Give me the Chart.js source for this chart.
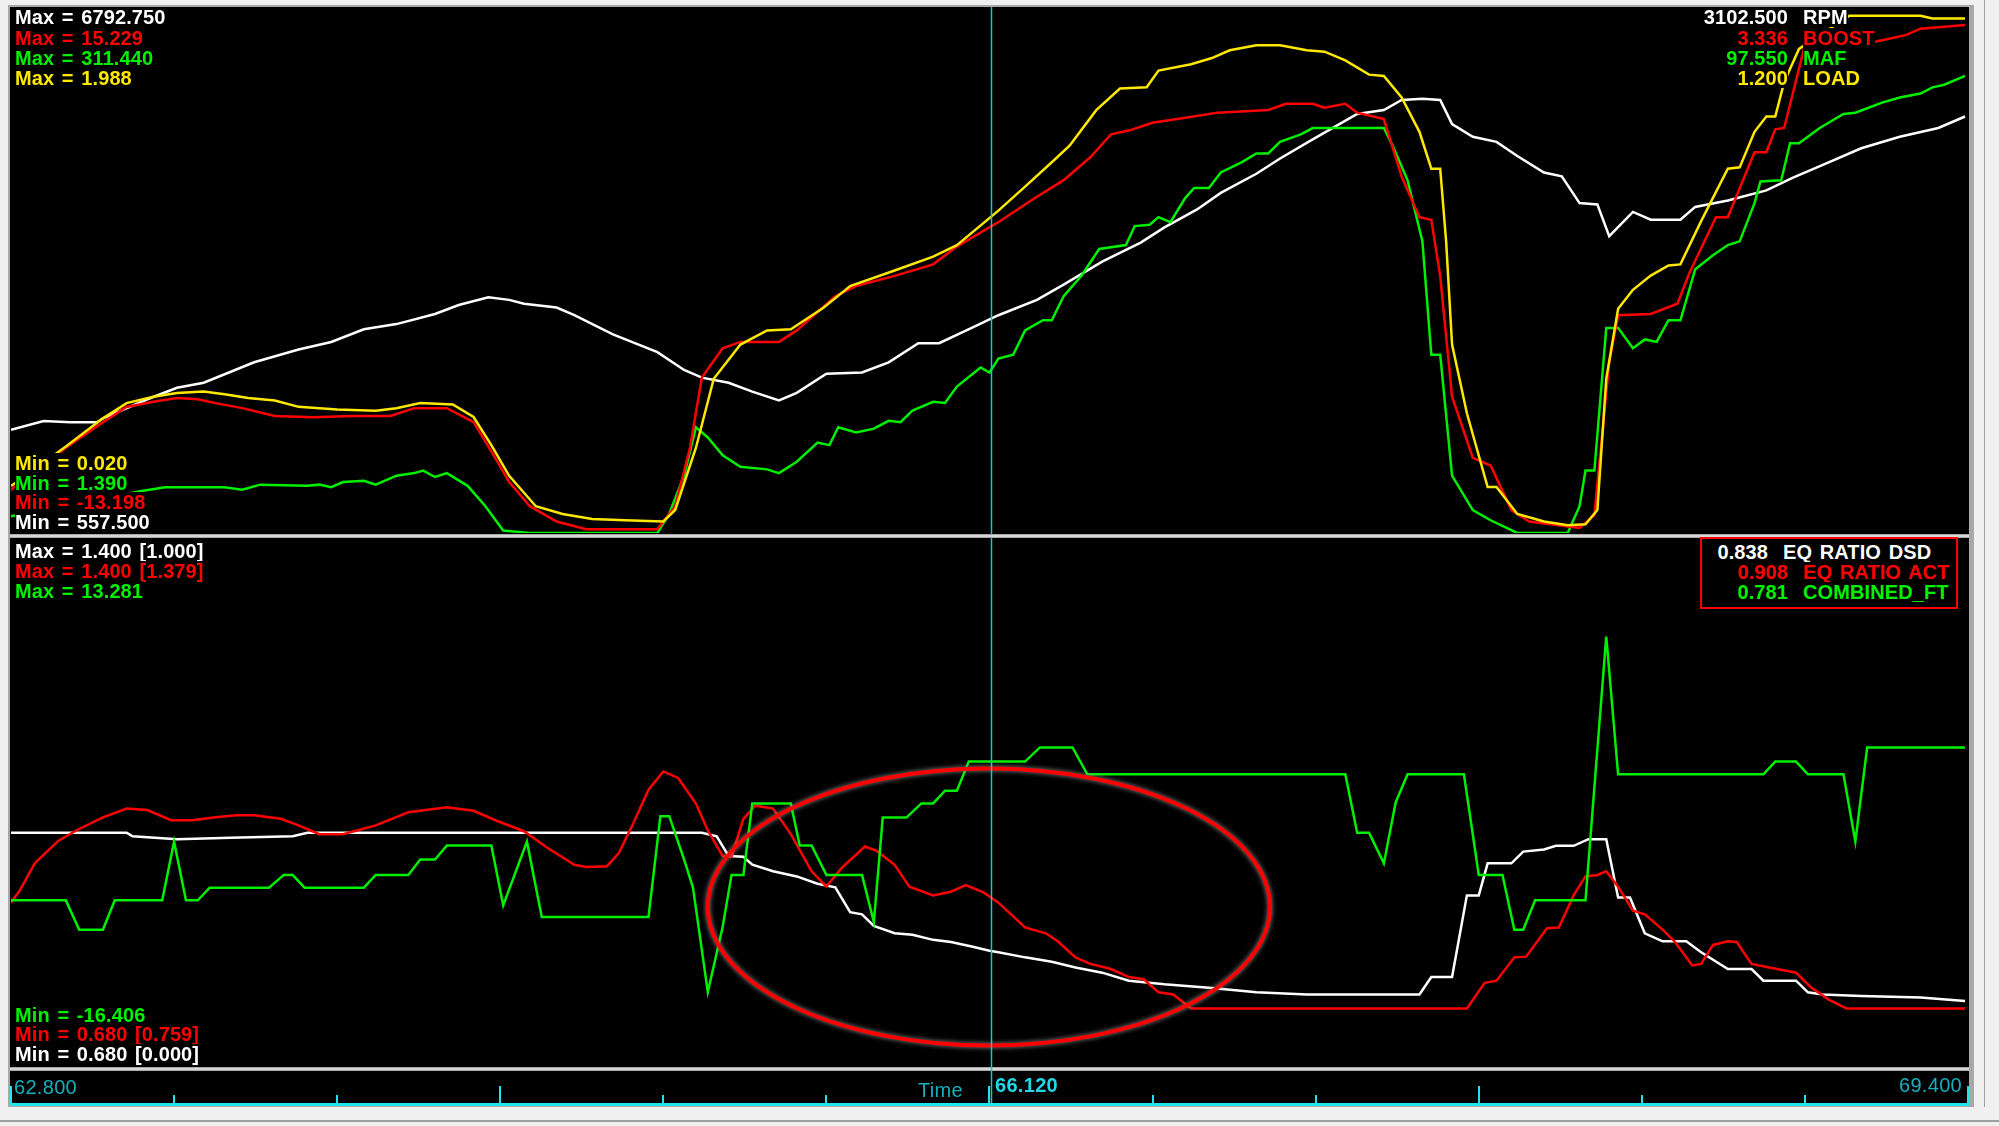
<!DOCTYPE html>
<html>
<head>
<meta charset="utf-8">
<title>Log - RPM / BOOST / MAF / LOAD</title>
<script src="https://cdn.jsdelivr.net/npm/chart.js@4.4.1/dist/chart.umd.min.js"></script>
<style>
  html, body { margin: 0; padding: 0; }
  body {
    width: 1999px; height: 1126px; position: relative; overflow: hidden;
    background: #f0f0f0; font-family: "Liberation Sans", Arial, sans-serif;
  }
  .bloco { position: absolute; }
  .lbl {
    position: absolute; white-space: pre; background: #000;
    font-weight: bold; font-size: 20px; line-height: 20px; letter-spacing: 0.1px; word-spacing: 2px;
  }
  .tempo { position: absolute; white-space: pre; font-size: 20px; line-height: 20px; letter-spacing: 0.3px; }
  .branco { color: #ffffff; }
  .vermelho { color: #ff0000; }
  .verde { color: #00f000; }
  .amarelo { color: #ffe800; }
</style>
</head>
<body>

<!-- moldura e painéis -->
<div class="bloco" style="left:8px;top:5px;width:1966px;height:1102px;background:#a8a8a8"></div>
<div class="bloco" style="left:10px;top:7px;width:1959px;height:527px;background:#000"></div>
<div class="bloco" style="left:10px;top:535px;width:1959px;height:2px;background:#d6d6d6"></div>
<div class="bloco" style="left:10px;top:538px;width:1959px;height:529px;background:#000"></div>
<div class="bloco" style="left:10px;top:1068px;width:1959px;height:2px;background:#d6d6d6"></div>
<div class="bloco" style="left:10px;top:1071px;width:1959px;height:35px;background:#000"></div>
<div class="bloco" style="left:1984px;top:0px;width:1px;height:1107px;background:#a0a0a0"></div>
<div class="bloco" style="left:0px;top:1120px;width:1999px;height:2px;background:#a0a0a0"></div>

<div class="bloco" style="left:10px;top:7px;width:1959px;height:527px">
  <canvas id="graficoSuperior" width="1959" height="527"></canvas>
</div>
<div class="bloco" style="left:10px;top:538px;width:1959px;height:568px">
  <canvas id="graficoInferior" width="1959" height="568"></canvas>
</div>

<!-- textos do painel superior -->
<div class="lbl branco" style="left:15px;top:7px">Max = 6792.750</div>
<div class="lbl vermelho" style="left:15px;top:28px">Max = 15.229</div>
<div class="lbl verde" style="left:15px;top:48px">Max = 311.440</div>
<div class="lbl amarelo" style="left:15px;top:68px">Max = 1.988</div>

<div class="lbl amarelo" style="left:15px;top:453px">Min = 0.020</div>
<div class="lbl verde" style="left:15px;top:473px">Min = 1.390</div>
<div class="lbl vermelho" style="left:15px;top:492px">Min = -13.198</div>
<div class="lbl branco" style="left:15px;top:512px">Min = 557.500</div>

<div class="lbl branco" style="right:211px;top:7px">3102.500</div>
<div class="lbl branco" style="left:1803px;top:7px">RPM</div>
<div class="lbl vermelho" style="right:211px;top:28px">3.336</div>
<div class="lbl vermelho" style="left:1803px;top:28px">BOOST</div>
<div class="lbl verde" style="right:211px;top:48px">97.550</div>
<div class="lbl verde" style="left:1803px;top:48px">MAF</div>
<div class="lbl amarelo" style="right:211px;top:68px">1.200</div>
<div class="lbl amarelo" style="left:1803px;top:68px">LOAD</div>

<!-- textos do painel inferior -->
<div class="lbl branco" style="left:15px;top:541px">Max = 1.400 [1.000]</div>
<div class="lbl vermelho" style="left:15px;top:561px">Max = 1.400 [1.379]</div>
<div class="lbl verde" style="left:15px;top:581px">Max = 13.281</div>

<div class="lbl verde" style="left:15px;top:1005px">Min = -16.406</div>
<div class="lbl vermelho" style="left:15px;top:1024px">Min = 0.680 [0.759]</div>
<div class="lbl branco" style="left:15px;top:1044px">Min = 0.680 [0.000]</div>

<div class="bloco" style="left:1700px;top:537px;width:258px;height:72px;box-sizing:border-box;border:2px solid #ff0000;background:#000"></div>
<div class="lbl branco" style="right:231px;top:542px">0.838</div>
<div class="lbl branco" style="left:1783px;top:542px">EQ RATIO DSD</div>
<div class="lbl vermelho" style="right:211px;top:562px">0.908</div>
<div class="lbl vermelho" style="left:1803px;top:562px">EQ RATIO ACT</div>
<div class="lbl verde" style="right:211px;top:582px">0.781</div>
<div class="lbl verde" style="left:1803px;top:582px">COMBINED_FT</div>

<!-- eixo de tempo -->
<div class="tempo" style="left:14px;top:1077px;color:#14b0c0">62.800</div>
<div class="tempo" style="left:918px;top:1080px;color:#14b0c0">Time</div>
<div class="tempo" style="left:995px;top:1075px;color:#22d8e8;font-weight:bold">66.120</div>
<div class="tempo" style="right:37px;top:1075px;color:#14b0c0">69.400</div>

<script>
// Canais do painel superior: [tempo (s), valor]
const rpm = [
  [62.80,1780],[62.91,1886],[63.00,1871],[63.09,1871],[63.11,1916],[63.26,2143],[63.36,2279],
  [63.45,2339],[63.62,2581],[63.77,2732],[63.88,2822],[63.99,2973],[64.10,3034],[64.23,3154],
  [64.31,3260],[64.41,3351],[64.48,3321],[64.53,3275],[64.64,3230],[64.70,3139],[64.83,2913],
  [64.98,2701],[65.07,2490],[65.13,2399],[65.22,2339],[65.30,2234],[65.39,2128],[65.45,2219],
  [65.55,2445],[65.67,2460],[65.76,2581],[65.86,2807],[65.93,2807],[66.04,2988],[66.13,3139],
  [66.26,3321],[66.35,3502],[66.48,3774],[66.61,4000],[66.69,4181],[66.80,4393],[66.88,4589],
  [67.00,4816],[67.08,4997],[67.19,5224],[67.28,5405],[67.34,5525],[67.43,5571],[67.49,5691],
  [67.56,5706],[67.62,5691],[67.66,5405],[67.73,5254],[67.81,5194],[67.88,5027],[67.97,4831],
  [68.03,4785],[68.09,4468],[68.15,4453],[68.19,4076],[68.27,4363],[68.33,4272],[68.43,4272],
  [68.48,4423],[68.59,4498],[68.72,4619],[68.81,4770],[68.93,4951],[69.04,5118],[69.17,5254],
  [69.30,5359],[69.39,5495]
];
const boost = [
  [62.80,-10.86],[62.985,-8.59],[63.11,-7.21],[63.19,-6.39],[63.28,-6.11],[63.36,-5.90],[63.43,-5.97],
  [63.49,-6.18],[63.58,-6.45],[63.69,-6.87],[63.82,-6.94],[63.95,-6.87],[64.08,-6.87],[64.16,-6.45],
  [64.27,-6.45],[64.36,-7.21],[64.42,-8.79],[64.48,-10.44],[64.55,-11.75],[64.64,-12.58],[64.74,-12.99],
  [64.98,-12.99],[65.04,-11.75],[65.09,-8.59],[65.13,-4.80],[65.20,-3.22],[65.26,-2.87],[65.39,-2.87],
  [65.45,-2.25],[65.58,-0.40],[65.65,0.15],[65.78,0.70],[65.91,1.32],[65.99,2.29],[66.13,3.60],
  [66.24,4.77],[66.35,5.87],[66.44,7.11],[66.51,8.35],[66.57,8.55],[66.65,8.97],[66.76,9.24],
  [66.87,9.52],[67.04,9.66],[67.10,10.00],[67.19,10.00],[67.23,9.79],[67.30,10.00],[67.34,9.52],
  [67.43,9.17],[67.49,6.07],[67.55,3.87],[67.59,3.73],[67.62,0.70],[67.66,-5.83],[67.73,-9.14],
  [67.79,-9.55],[67.86,-11.96],[67.92,-12.58],[68.09,-12.92],[68.14,-12.23],[68.19,-3.97],[68.22,-1.43],
  [68.33,-1.36],[68.42,-0.81],[68.46,0.84],[68.55,3.87],[68.59,3.87],[68.68,7.38],[68.72,7.38],
  [68.75,8.62],[68.78,8.69],[68.85,13.16],[69.09,13.37],[69.19,13.71],[69.24,14.06],[69.39,14.26]
];
const maf = [
  [62.80,11.2],[63.24,26.2],[63.32,28.4],[63.52,28.4],[63.58,26.9],[63.64,29.9],[63.80,29.2],
  [63.84,29.9],[63.88,28.4],[63.92,31.4],[63.99,32.2],[64.03,29.9],[64.10,35.2],[64.16,36.7],
  [64.19,38.2],[64.23,34.4],[64.27,36.7],[64.34,29.2],[64.40,17.2],[64.46,2.9],[64.55,1.39],
  [64.98,1.39],[65.02,12.7],[65.07,35.2],[65.11,63.7],[65.15,57.7],[65.20,47.2],[65.26,40.4],
  [65.35,38.9],[65.39,36.7],[65.45,43.4],[65.52,54.7],[65.56,53.2],[65.59,63.7],[65.65,60.7],
  [65.71,62.9],[65.76,67.5],[65.80,66.7],[65.84,73.5],[65.91,78.7],[65.95,78.0],[65.99,87.7],
  [66.07,99.0],[66.10,96.0],[66.13,104.2],[66.18,106.5],[66.22,120.8],[66.28,126.8],[66.31,126.8],
  [66.35,141.0],[66.41,153.0],[66.47,168.8],[66.56,171.1],[66.59,182.3],[66.64,183.1],[66.67,187.6],
  [66.71,184.6],[66.76,198.8],[66.79,204.8],[66.84,204.8],[66.88,213.9],[66.95,219.9],[67.00,225.1],
  [67.04,225.1],[67.08,231.9],[67.15,236.4],[67.19,240.1],[67.43,240.1],[67.46,229.6],[67.51,209.3],
  [67.56,173.3],[67.59,106.5],[67.62,106.5],[67.66,35.2],[67.73,14.9],[67.79,8.9],[67.88,1.39],
  [68.05,1.39],[68.09,17.2],[68.11,38.2],[68.14,38.2],[68.18,122.3],[68.22,122.3],[68.27,110.3],
  [68.31,115.5],[68.35,114.0],[68.39,126.8],[68.43,126.8],[68.48,156.8],[68.54,165.1],[68.59,171.1],
  [68.63,173.3],[68.68,195.8],[68.70,208.6],[68.77,209.3],[68.80,231.1],[68.83,231.1],[68.90,240.1],
  [68.98,248.4],[69.02,249.1],[69.11,255.1],[69.17,258.1],[69.24,260.4],[69.28,264.1],[69.32,265.6],
  [69.39,270.9]
];
const load = [
  [62.80,0.196],[62.985,0.344],[63.11,0.449],[63.19,0.506],[63.28,0.530],[63.36,0.544],[63.45,0.549],
  [63.52,0.539],[63.60,0.525],[63.69,0.516],[63.77,0.492],[63.90,0.482],[64.03,0.477],[64.10,0.487],
  [64.18,0.506],[64.29,0.501],[64.36,0.454],[64.42,0.349],[64.48,0.234],[64.57,0.120],[64.66,0.091],
  [64.76,0.072],[64.87,0.068],[65.00,0.063],[65.04,0.106],[65.11,0.339],[65.17,0.597],[65.26,0.725],
  [65.35,0.778],[65.43,0.782],[65.54,0.863],[65.63,0.944],[65.78,1.002],[65.91,1.054],[65.99,1.097],
  [66.13,1.226],[66.22,1.316],[66.31,1.407],[66.37,1.469],[66.46,1.602],[66.54,1.683],[66.63,1.688],
  [66.67,1.750],[66.78,1.774],[66.85,1.797],[66.91,1.826],[67.00,1.845],[67.08,1.845],[67.17,1.826],
  [67.23,1.821],[67.30,1.788],[67.38,1.735],[67.43,1.730],[67.49,1.650],[67.55,1.521],[67.59,1.383],
  [67.62,1.383],[67.64,1.111],[67.66,0.725],[67.71,0.468],[67.78,0.192],[67.81,0.192],[67.88,0.091],
  [67.97,0.063],[68.05,0.049],[68.11,0.053],[68.15,0.106],[68.18,0.597],[68.22,0.859],[68.27,0.930],
  [68.33,0.983],[68.39,1.021],[68.43,1.025],[68.50,1.187],[68.59,1.383],[68.63,1.388],[68.68,1.521],
  [68.72,1.578],[68.75,1.578],[68.78,1.707],[68.83,1.831],[69.00,1.955],[69.24,1.955],[69.28,1.945],
  [69.39,1.945]
];

// Canais do painel inferior
const eqRatioDsd = [
  [62.80,1.000],[63.19,1.000],[63.21,0.995],[63.36,0.991],[63.54,0.993],[63.75,0.995],[63.80,1.000],
  [65.13,1.000],[65.18,0.995],[65.22,0.968],[65.27,0.967],[65.30,0.956],[65.37,0.947],[65.45,0.940],
  [65.52,0.930],[65.58,0.925],[65.63,0.891],[65.67,0.888],[65.71,0.872],[65.78,0.862],[65.84,0.860],
  [65.91,0.853],[65.97,0.850],[66.04,0.844],[66.10,0.838],[66.13,0.836],[66.22,0.829],[66.31,0.823],
  [66.39,0.815],[66.48,0.808],[66.57,0.797],[66.69,0.792],[66.85,0.787],[67.00,0.781],[67.17,0.778],
  [67.55,0.778],[67.59,0.802],[67.66,0.802],[67.71,0.914],[67.75,0.914],[67.78,0.958],[67.86,0.958],
  [67.90,0.974],[67.97,0.977],[68.01,0.982],[68.07,0.982],[68.12,0.991],[68.18,0.991],[68.22,0.911],
  [68.26,0.911],[68.31,0.862],[68.37,0.851],[68.45,0.851],[68.50,0.836],[68.59,0.813],[68.67,0.813],
  [68.71,0.797],[68.82,0.797],[68.86,0.781],[68.91,0.778],[69.04,0.776],[69.24,0.774],[69.39,0.769]
];
const eqRatioAct = [
  [62.80,0.904],[62.83,0.921],[62.88,0.958],[62.96,0.989],[63.02,1.003],[63.11,1.021],[63.19,1.033],
  [63.26,1.031],[63.34,1.017],[63.41,1.017],[63.49,1.021],[63.56,1.024],[63.62,1.024],[63.71,1.019],
  [63.77,1.010],[63.84,0.998],[63.92,0.998],[64.03,1.010],[64.14,1.028],[64.27,1.035],[64.36,1.030],
  [64.44,1.016],[64.53,1.002],[64.61,0.979],[64.70,0.956],[64.74,0.953],[64.81,0.954],[64.85,0.972],
  [64.90,1.014],[64.95,1.059],[65.00,1.084],[65.05,1.075],[65.11,1.040],[65.15,1.003],[65.20,0.968],
  [65.23,0.967],[65.27,1.019],[65.31,1.037],[65.37,1.033],[65.43,0.998],[65.50,0.947],[65.55,0.926],
  [65.60,0.951],[65.68,0.981],[65.72,0.975],[65.78,0.956],[65.83,0.926],[65.91,0.914],[65.97,0.919],
  [66.02,0.928],[66.08,0.918],[66.13,0.904],[66.22,0.870],[66.29,0.862],[66.33,0.851],[66.39,0.829],
  [66.44,0.820],[66.51,0.813],[66.57,0.802],[66.62,0.799],[66.67,0.781],[66.72,0.778],[66.78,0.759],
  [67.71,0.759],[67.77,0.794],[67.81,0.797],[67.87,0.829],[67.91,0.830],[67.98,0.869],[68.02,0.870],
  [68.07,0.914],[68.11,0.940],[68.15,0.942],[68.18,0.947],[68.22,0.926],[68.27,0.893],[68.31,0.888],
  [68.37,0.867],[68.41,0.851],[68.47,0.818],[68.50,0.820],[68.54,0.846],[68.59,0.851],[68.62,0.850],
  [68.67,0.820],[68.73,0.815],[68.82,0.808],[68.87,0.788],[68.93,0.771],[68.99,0.759],[69.39,0.759]
];
const combinedFt = [
  [62.80,-7.04],[62.985,-7.04],[63.03,-8.70],[63.11,-8.70],[63.15,-7.04],[63.31,-7.04],[63.35,-3.72],
  [63.39,-7.04],[63.43,-7.04],[63.47,-6.32],[63.67,-6.32],[63.72,-5.60],[63.75,-5.60],[63.79,-6.32],
  [63.99,-6.32],[64.03,-5.60],[64.14,-5.60],[64.18,-4.73],[64.23,-4.73],[64.27,-3.94],[64.42,-3.94],
  [64.46,-7.33],[64.54,-3.72],[64.59,-7.98],[64.95,-7.98],[64.99,-2.28],[65.02,-2.28],[65.07,-4.73],
  [65.10,-6.32],[65.15,-12.23],[65.20,-8.55],[65.23,-5.60],[65.27,-5.60],[65.30,-1.56],[65.43,-1.56],
  [65.46,-3.94],[65.50,-3.94],[65.55,-5.60],[65.67,-5.60],[65.71,-8.26],[65.74,-2.36],[65.82,-2.36],
  [65.87,-1.56],[65.91,-1.56],[65.95,-0.84],[65.99,-0.84],[66.03,0.81],[66.22,0.81],[66.27,1.61],
  [66.38,1.61],[66.43,0.09],[67.30,0.09],[67.34,-3.22],[67.38,-3.22],[67.43,-4.95],[67.47,-1.49],
  [67.51,0.09],[67.70,0.09],[67.75,-5.60],[67.83,-5.60],[67.87,-8.70],[67.90,-8.70],[67.94,-7.04],
  [68.11,-7.04],[68.18,7.88],[68.22,0.09],[68.71,0.09],[68.75,0.81],[68.82,0.81],[68.86,0.09],
  [68.98,0.09],[69.02,-3.72],[69.06,1.61],[69.39,1.61]
];

// Faixas min/max de cada canal (escala vertical de cada traço)
const faixaRpm = [557.5, 6792.75];
const faixaBoost = [-13.198, 15.229];
const faixaMaf = [1.39, 311.44];
const faixaLoad = [0.02, 1.988];
const faixaEq = [0.68, 1.4];
const faixaFt = [-16.406, 13.281];

// Eixo de tempo
const tempoInicio = 62.8;
const tempoFim = 69.4;
const tempoCursor = 66.105;
const ticksMaiores = [62.8, 64.45, 66.1, 67.75, 69.4];
const ticksMenores = [63.35, 63.9, 65.0, 65.55, 66.65, 67.2, 68.3, 68.85];

const CIANO = '#1ee6ee';

function paraPontos(serie) {
    return serie.map(function (p) { return { x: p[0], y: p[1] }; });
}

function dataset(serie, cor, eixo) {
    return {
        data: paraPontos(serie),
        borderColor: cor,
        borderWidth: 2.5,
        pointRadius: 0,
        tension: 0,
        fill: false,
        yAxisID: eixo
    };
}

function eixoY(faixa) {
    return { type: 'linear', display: false, min: faixa[0], max: faixa[1] };
}

// Linha vertical do cursor
const pluginCursor = {
    id: 'cursor',
    afterDraw(chart, args, opts) {
        const ctx = chart.ctx;
        const x = Math.round(chart.scales.x.getPixelForValue(tempoCursor)) + 0.5;
        ctx.save();
        ctx.strokeStyle = '#22c4cc';
        ctx.lineWidth = 1.5;
        ctx.beginPath();
        ctx.moveTo(x, 0);
        ctx.lineTo(x, opts.fim || chart.height);
        ctx.stroke();
        ctx.restore();
    }
};

// Marcação da elipse vermelha no painel inferior
const pluginElipse = {
    id: 'elipse',
    afterDatasetsDraw(chart) {
        const ctx = chart.ctx;
        const sx = chart.scales.x;
        const sy = chart.scales.yEq;
        const cx = sx.getPixelForValue(66.098);
        const cy = sy.getPixelForValue(0.898);
        const rx = sx.getPixelForValue(66.098 + 0.948) - cx;
        const ry = cy - sy.getPixelForValue(0.898 + 0.19);
        ctx.save();
        ctx.shadowColor = 'rgba(150,150,150,0.95)';
        ctx.shadowBlur = 5;
        ctx.strokeStyle = '#ff0000';
        ctx.lineWidth = 4;
        ctx.beginPath();
        ctx.ellipse(cx, cy, rx, ry, 0, 0, Math.PI * 2);
        ctx.stroke();
        ctx.restore();
    }
};

// Régua de tempo embaixo do painel inferior
const pluginEixoTempo = {
    id: 'eixoTempo',
    afterDraw(chart) {
        const ctx = chart.ctx;
        const sx = chart.scales.x;
        const base = chart.height - 3;
        ctx.save();
        ctx.fillStyle = CIANO;
        ctx.fillRect(0, base, chart.width, 3);
        ticksMaiores.forEach(function (t) {
            const x = Math.round(sx.getPixelForValue(t));
            ctx.fillRect(x - 1, base - 17, 2, 17);
        });
        ticksMenores.forEach(function (t) {
            const x = Math.round(sx.getPixelForValue(t));
            ctx.fillRect(x - 1, base - 8, 2, 8);
        });
        ctx.restore();
    }
};

const opcoesBase = {
    responsive: false,
    animation: false,
    events: []
};

// Painel superior
new Chart(document.getElementById('graficoSuperior').getContext('2d'), {
    type: 'line',
    data: {
        datasets: [
            dataset(load, '#ffe800', 'yLoad'),
            dataset(boost, '#ff0000', 'yBoost'),
            dataset(maf, '#00f000', 'yMaf'),
            dataset(rpm, '#ffffff', 'yRpm')
        ]
    },
    options: Object.assign({}, opcoesBase, {
        layout: { padding: { left: 1, right: 1, top: 0, bottom: 1 } },
        scales: {
            x: { type: 'linear', display: false, min: tempoInicio, max: tempoFim },
            yRpm: eixoY(faixaRpm),
            yBoost: eixoY(faixaBoost),
            yMaf: eixoY(faixaMaf),
            yLoad: eixoY(faixaLoad)
        },
        plugins: { legend: { display: false }, tooltip: { enabled: false }, cursor: {} }
    }),
    plugins: [pluginCursor]
});

// Painel inferior + régua de tempo
new Chart(document.getElementById('graficoInferior').getContext('2d'), {
    type: 'line',
    data: {
        datasets: [
            dataset(combinedFt, '#00f000', 'yFt'),
            dataset(eqRatioAct, '#ff0000', 'yEq'),
            dataset(eqRatioDsd, '#ffffff', 'yEq')
        ]
    },
    options: Object.assign({}, opcoesBase, {
        layout: { padding: { left: 1, right: 1, top: 3, bottom: 40 } },
        scales: {
            x: { type: 'linear', display: false, min: tempoInicio, max: tempoFim },
            yEq: eixoY(faixaEq),
            yFt: eixoY(faixaFt)
        },
        plugins: { legend: { display: false }, tooltip: { enabled: false }, cursor: { fim: 565 } }
    }),
    plugins: [pluginElipse, pluginEixoTempo, pluginCursor]
});
</script>
</body>
</html>
